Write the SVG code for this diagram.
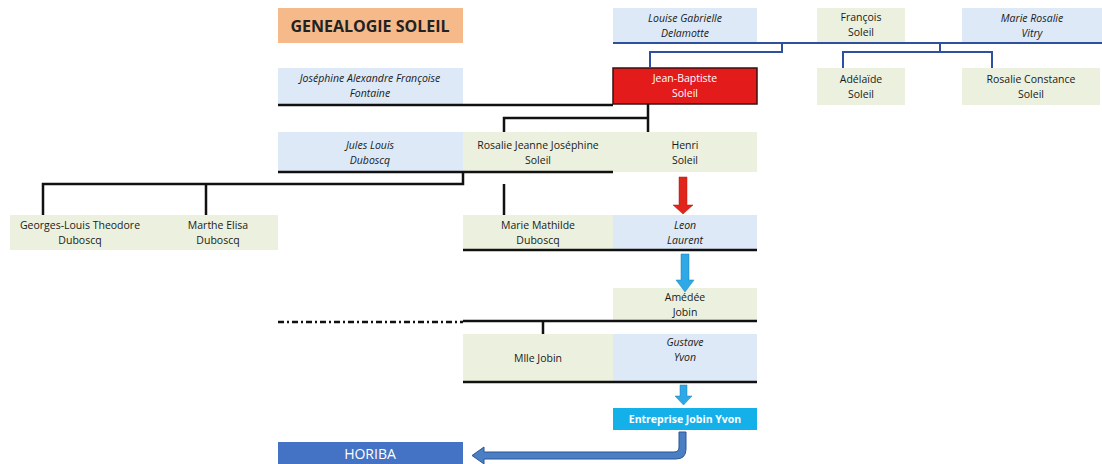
<svg xmlns="http://www.w3.org/2000/svg" width="1102" height="464" viewBox="0 0 1102 464">
<defs>
<style>
.t{font-family:"Open Sans","Liberation Sans",sans-serif;font-size:10.5px;fill:#1a1a1a;text-anchor:middle}
.i{font-style:italic}
.b{fill:#dde9f6}
.g{fill:#ebf1de}
.k{stroke:#111;stroke-width:2.5;fill:none}
.bl{stroke:#2f4f9f;stroke-width:2;fill:none}
.w{fill:#fff;font-weight:bold}
</style>
</defs>
<rect width="1102" height="464" fill="#fff"/>
<g id="title">
<rect x="278" y="8" width="185" height="35" fill="#f5b98a"/>
<text x="370" y="32" class="t" style="font-size:16px;font-weight:bold;fill:#222">GENEALOGIE SOLEIL</text>
</g>
<g id="louise"><rect x="613" y="8" width="144" height="35" class="b"/><text x="685" y="22" class="t i">Louise Gabrielle</text><text x="685" y="37" class="t i">Delamotte</text></g>
<g id="francois"><rect x="817" y="8" width="88" height="35" class="g"/><text x="861" y="21" class="t">François</text><text x="861" y="36" class="t">Soleil</text></g>
<g id="marie-rosalie"><rect x="962" y="8" width="140" height="35" class="b"/><text x="1032" y="22" class="t i">Marie Rosalie</text><text x="1032" y="37" class="t i">Vitry</text></g>
<g id="josephine"><rect x="278" y="68" width="185" height="36" class="b"/><text x="370" y="82" class="t i">Joséphine Alexandre Françoise</text><text x="370" y="97" class="t i">Fontaine</text></g>
<g id="jean-baptiste"><rect x="613" y="68" width="144" height="36" fill="#e31b1b" stroke="#3a1010" stroke-width="1.5"/><text x="685" y="82" class="t" style="fill:#fff">Jean-Baptiste</text><text x="685" y="97" class="t" style="fill:#fff">Soleil</text></g>
<g id="adelaide"><rect x="817" y="68" width="88" height="37" class="g"/><text x="861" y="83" class="t">Adélaïde</text><text x="861" y="98" class="t">Soleil</text></g>
<g id="rosalie-constance"><rect x="962" y="68" width="138" height="37" class="g"/><text x="1031" y="83" class="t">Rosalie Constance</text><text x="1031" y="98" class="t">Soleil</text></g>
<g id="jules"><rect x="278" y="132" width="185" height="40" class="b"/><text x="370" y="149" class="t i">Jules Louis</text><text x="370" y="164" class="t i">Duboscq</text></g>
<g id="rosalie-jeanne"><rect x="463" y="132" width="150" height="40" class="g"/><text x="538" y="149" class="t">Rosalie Jeanne Joséphine</text><text x="538" y="164" class="t">Soleil</text></g>
<g id="henri"><rect x="613" y="132" width="144" height="40" class="g"/><text x="685" y="149" class="t">Henri</text><text x="685" y="164" class="t">Soleil</text></g>
<g id="duboscq-children"><rect x="10" y="215" width="268" height="35" class="g"/><text x="80" y="229" class="t">Georges-Louis Theodore</text><text x="80" y="244" class="t">Duboscq</text><text x="218" y="229" class="t">Marthe Elisa</text><text x="218" y="244" class="t">Duboscq</text></g>
<g id="marie-mathilde"><rect x="463" y="215" width="150" height="35" class="g"/><text x="538" y="229" class="t">Marie Mathilde</text><text x="538" y="244" class="t">Duboscq</text></g>
<g id="leon"><rect x="613" y="215" width="144" height="35" class="b"/><text x="685" y="229" class="t i">Leon</text><text x="685" y="244" class="t i">Laurent</text></g>
<g id="amedee"><rect x="613" y="288" width="144" height="33" class="g"/><text x="685" y="301" class="t">Amédée</text><text x="685" y="316" class="t">Jobin</text></g>
<g id="mlle-jobin"><rect x="463" y="334" width="150" height="48" class="g"/><text x="538" y="362" class="t">Mlle Jobin</text></g>
<g id="gustave"><rect x="613" y="334" width="144" height="48" class="b"/><text x="685" y="346" class="t i">Gustave</text><text x="685" y="361" class="t i">Yvon</text></g>
<g id="entreprise"><rect x="613" y="408" width="144" height="22" fill="#14b0ea"/><text x="685" y="423" class="t w">Entreprise Jobin Yvon</text></g>
<g id="horiba"><rect x="278" y="442" width="185" height="22" fill="#4472c4"/><text x="370" y="459" class="t" style="fill:#fff;font-size:14px">HORIBA</text></g>
<g id="connectors">
<path class="bl" d="M613 43H1102M782 43V52H650V68M940 43V52H843V68M843 52H992V68"/>
<path class="k" d="M278 105H613M648 104V118H504V132M648 118V132"/>
<path class="k" d="M278 172H613M463 172V184H43V215M206 184V215M504 184V215"/>
<path class="k" d="M463 250H757"/>
<path class="k" d="M463 321H757M543 321V334"/>
<path d="M278 322H463" stroke="#111" stroke-width="2.5" stroke-dasharray="6 3 2 3"/>
<path class="k" d="M463 382H757"/>
<path d="M679 177H687V205H693L683 214L673 205H679Z" fill="#e0261c" stroke="#b01a10" stroke-width="0.5"/>
<path d="M681 254H689V280H694L685 292L676 280H681Z" fill="#2fa8e6" stroke="#1b7fb8" stroke-width="0.5"/>
<path d="M680 385H687V396H692L683.5 405L675 396H680Z" fill="#2fa8e6" stroke="#1b7fb8" stroke-width="0.5"/>
<path d="M679 432V447Q679 452 674 452H484V447L472 455.5L484 464V459H676Q686 459 686 449V432Z" fill="#4a7fc4" stroke="#2f5597" stroke-width="1"/>
</g>
</svg>
